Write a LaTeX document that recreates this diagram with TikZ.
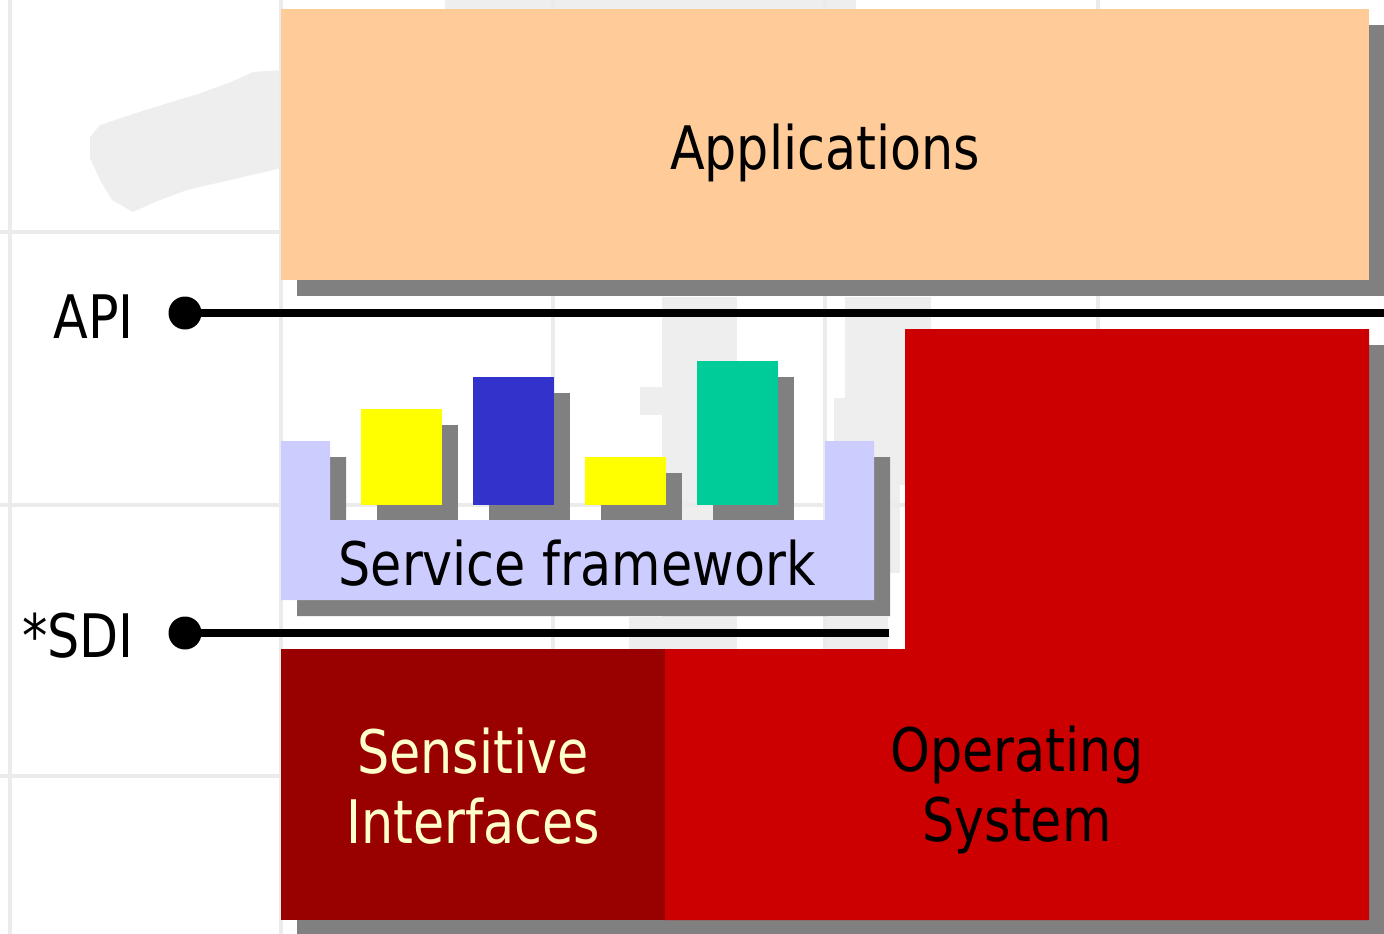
\documentclass[tikz,border=0pt]{standalone}
\usepackage{fontspec}
\setmainfont[FakeStretch=0.94]{DejaVu Sans Condensed}
\usetikzlibrary{positioning}
\definecolor{appcol}{HTML}{FFCC99}
\definecolor{oscol}{HTML}{CC0000}
\definecolor{sicol}{HTML}{990000}
\definecolor{sfcol}{HTML}{CCCCFF}
\definecolor{shadecol}{HTML}{808080}
\definecolor{gridcol}{HTML}{EBEBEB}
\definecolor{blobcol}{HTML}{EEEEEE}
\definecolor{svcyellow}{HTML}{FFFF00}
\definecolor{svcblue}{HTML}{3333CC}
\definecolor{svcgreen}{HTML}{00CC99}
\definecolor{sitext}{HTML}{FFFFCC}
\tikzset{
  shade/.style={fill=shadecol},
  wire/.style={line width=8pt},
  dot/.style={circle,fill=black,inner sep=0pt,minimum size=33pt},
  big/.style={font=\fontsize{60}{70}\selectfont,inner sep=0pt,align=center}
}
\begin{document}
\begin{tikzpicture}[x=1pt,y=-1pt]
    \useasboundingbox (0,0) rectangle (1384,934);
    % faint background
    \fill[blobcol] (90,137) -- (100,125) -- (133,114) -- (165,104) -- (198,94) -- (231,82) -- (253,72) -- (282,70) -- (282,168) -- (230,180) -- (187,190) -- (155,202) -- (133,212) -- (112,200) -- (100,180) -- (90,158) -- cycle;
    \fill[blobcol] (445,0) rectangle (856,9);
    \fill[blobcol] (662,297) rectangle (737,650);
    \fill[blobcol] (640,387) rectangle (662,415);
    \fill[blobcol] (629,617) rectangle (694,650);
    \fill[blobcol] (845,297) rectangle (931,485);
    \fill[blobcol] (834,398) rectangle (900,573);
    \fill[blobcol] (823,617) rectangle (888,650);
    \foreach \gx in {10,281,553,825,1098}
        \draw[gridcol,line width=4pt] (\gx,0) -- (\gx,934);
    \foreach \gy in {232,505,776}
        \draw[gridcol,line width=4pt] (0,\gy) -- (1384,\gy);

    % shadows
    \fill[shade] (297,25) rectangle (1385,296);
    \fill[shade] (921,345) -- (1385,345) -- (1385,936) -- (297,936) -- (297,665) -- (921,665) -- cycle;
    \fill[shade] (297,457) -- (346,457) -- (346,536) -- (841,536) -- (841,457) -- (890,457) -- (890,616) -- (297,616) -- cycle;
    \fill[shade] (377,425) rectangle (458,521);
    \fill[shade] (489,393) rectangle (570,521);
    \fill[shade] (601,473) rectangle (682,521);
    \fill[shade] (713,377) rectangle (794,521);

    % layers
    \fill[appcol] (281,9) rectangle (1369,280);
    \node[big] (apps) at (825,153) {Applications};

    \fill[oscol] (905,329) -- (1369,329) -- (1369,920) -- (665,920) -- (665,649) -- (905,649) -- cycle;
    \node[big] (os) at (1017,790) {Operating\\System};
    \fill[sicol] (281,649) rectangle (665,920);
    \node[big,text=sitext] (si) at (473,786) {Sensitive\\Interfaces};

    \fill[sfcol] (281,441) -- (330,441) -- (330,520) -- (825,520) -- (825,441) -- (874,441) -- (874,600) -- (281,600) -- cycle;
    \node[big] (sf) at (577,563) {Service framework};
    \fill[svcyellow] (361,409) rectangle (442,505);
    \fill[svcblue] (473,377) rectangle (554,505);
    \fill[svcyellow] (585,457) rectangle (666,505);
    \fill[svcgreen] (697,361) rectangle (778,505);

    % interfaces
    \node[dot] (api) at (185,313) {};
    \coordinate (apiend) at (1384,313);
    \draw[wire] (api.center) -- (apiend);
    \node[big,anchor=east] (apilbl) at (134,317) {API};

    \node[dot] (sdi) at (185,633) {};
    \coordinate (sdiend) at (889,633);
    \draw[wire] (sdi.center) -- (sdiend);
    \node[big,anchor=east] (sdilbl) at (134,636) {*SDI};
\end{tikzpicture}
\end{document}
